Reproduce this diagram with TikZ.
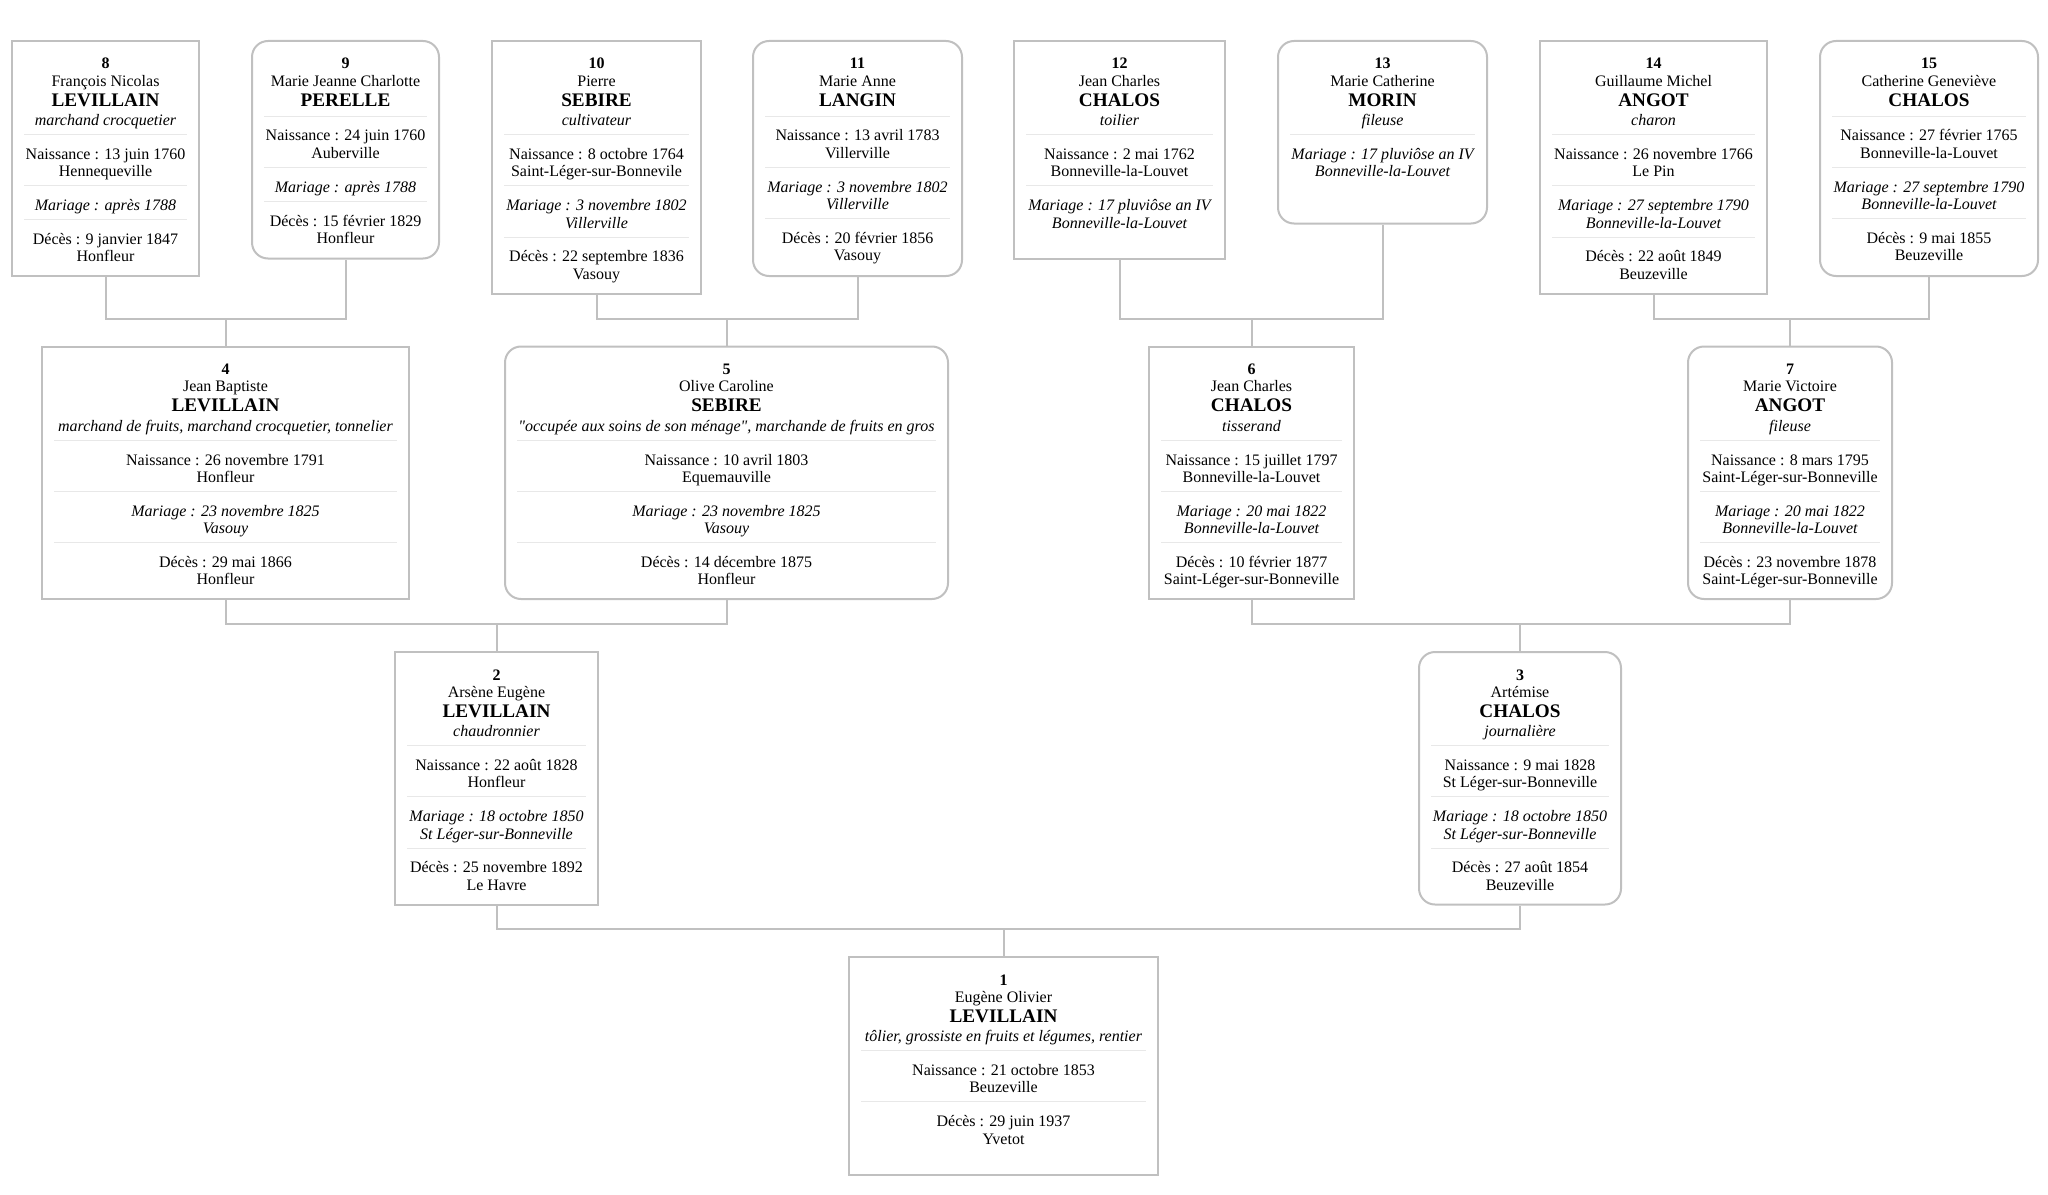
\documentclass[tikz,border=0pt]{standalone}
\usepackage{fontspec}
\setmainfont{Liberation Serif}[Ligatures=TeXOff]

\definecolor{cadre}{RGB}{192,192,192}
\definecolor{trait}{RGB}{232,232,232}

\newdimen\pxu \pxu=0.75pt
% one card: width (px), height (px), lines
\newcommand{\fiche}[3]{\parbox[c][#2\pxu][t]{\dimexpr#1\pxu-24\pxu\relax}{\centering\fontsize{12}{13}\selectfont\rule{0pt}{21pt}#3}}
\newcommand{\nom}[1]{\\[1.8pt]{\fontsize{14.4}{13}\selectfont\bfseries #1}}
\newcommand{\metier}[1]{\\[1.7pt]\textit{#1}}
\newcommand{\sep}[1][-5.8pt]{\\[#1]\leavevmode{\color{trait}\rule{\linewidth}{0.75pt}}\\[5.2pt]}

\tikzset{every picture/.style={line width=0.75pt},
  homme/.style={draw=cadre, line width=1.5pt, fill=white, inner xsep=9pt, inner ysep=0pt, anchor=north},
  femme/.style={homme, rounded corners=12pt},
  lien/.style={draw=cadre, line width=1.5pt}}

\begin{document}
\begin{tikzpicture}[x=0.75pt,y=0.75pt,yscale=-1,xscale=1]
\useasboundingbox (0,0) rectangle (2048,1195);

% Generation 4
\node [homme] (p8) at (105.5,40) {\fiche{187}{235}{\textbf{8}\\ François Nicolas\nom{LEVILLAIN}\metier{marchand crocquetier}\sep
  Naissance : 13 juin 1760\\ Hennequeville\sep \textit{Mariage : après 1788}\sep Décès : 9 janvier 1847\\ Honfleur}};
\node [femme] (p9) at (345.5,40) {\fiche{187}{217.5}{\textbf{9}\\ Marie Jeanne Charlotte\nom{PERELLE}\sep[-5pt]
  Naissance : 24 juin 1760\\ Auberville\sep \textit{Mariage : après 1788}\sep Décès : 15 février 1829\\ Honfleur}};
\node [homme] (p10) at (596.5,40) {\fiche{209}{252.5}{\textbf{10}\\ Pierre\nom{SEBIRE}\metier{cultivateur}\sep
  Naissance : 8 octobre 1764\\ Saint-Léger-sur-Bonnevile\sep {\itshape Mariage : 3 novembre 1802\\ Villerville}\sep Décès : 22 septembre 1836\\ Vasouy}};
\node [femme] (p11) at (857.5,40) {\fiche{209}{235}{\textbf{11}\\ Marie Anne\nom{LANGIN}\sep[-5pt]
  Naissance : 13 avril 1783\\ Villerville\sep {\itshape Mariage : 3 novembre 1802\\ Villerville}\sep Décès : 20 février 1856\\ Vasouy}};
\node [homme] (p12) at (1119.5,40) {\fiche{211}{217.5}{\textbf{12}\\ Jean Charles\nom{CHALOS}\metier{toilier}\sep
  Naissance : 2 mai 1762\\ Bonneville-la-Louvet\sep {\itshape Mariage : 17 pluviôse an IV\\ Bonneville-la-Louvet}}};
\node [femme] (p13) at (1382.5,40) {\fiche{209}{182.5}{\textbf{13}\\ Marie Catherine\nom{MORIN}\metier{fileuse}\sep
  {\itshape Mariage : 17 pluviôse an IV\\ Bonneville-la-Louvet}}};
\node [homme] (p14) at (1653.5,40) {\fiche{227}{252.5}{\textbf{14}\\ Guillaume Michel\nom{ANGOT}\metier{charon}\sep
  Naissance : 26 novembre 1766\\ Le Pin\sep {\itshape Mariage : 27 septembre 1790\\ Bonneville-la-Louvet}\sep Décès : 22 août 1849\\ Beuzeville}};
\node [femme] (p15) at (1929,40) {\fiche{218}{235}{\textbf{15}\\ Catherine Geneviève\nom{CHALOS}\sep[-5pt]
  Naissance : 27 février 1765\\ Bonneville-la-Louvet\sep {\itshape Mariage : 27 septembre 1790\\ Bonneville-la-Louvet}\sep Décès : 9 mai 1855\\ Beuzeville}};

% Generation 3
\node [homme] (p4) at (225.5,345.5) {\fiche{367}{252.5}{\textbf{4}\\ Jean Baptiste\nom{LEVILLAIN}\metier{marchand de fruits, marchand crocquetier, tonnelier}\sep
  Naissance : 26 novembre 1791\\ Honfleur\sep {\itshape Mariage : 23 novembre 1825\\ Vasouy}\sep Décès : 29 mai 1866\\ Honfleur}};
\node [femme] (p5) at (726.5,345.5) {\fiche{443}{252.5}{\textbf{5}\\ Olive Caroline\nom{SEBIRE}\metier{"occupée aux soins de son ménage", marchande de fruits en gros}\sep
  Naissance : 10 avril 1803\\ Equemauville\sep {\itshape Mariage : 23 novembre 1825\\ Vasouy}\sep Décès : 14 décembre 1875\\ Honfleur}};
\node [homme] (p6) at (1251.5,345.5) {\fiche{205}{252.5}{\textbf{6}\\ Jean Charles\nom{CHALOS}\metier{tisserand}\sep
  Naissance : 15 juillet 1797\\ Bonneville-la-Louvet\sep {\itshape Mariage : 20 mai 1822\\ Bonneville-la-Louvet}\sep Décès : 10 février 1877\\ Saint-Léger-sur-Bonneville}};
\node [femme] (p7) at (1790,345.5) {\fiche{204}{252.5}{\textbf{7}\\ Marie Victoire\nom{ANGOT}\metier{fileuse}\sep
  Naissance : 8 mars 1795\\ Saint-Léger-sur-Bonneville\sep {\itshape Mariage : 20 mai 1822\\ Bonneville-la-Louvet}\sep Décès : 23 novembre 1878\\ Saint-Léger-sur-Bonneville}};

% Generation 2
\node [homme] (p2) at (496.5,651) {\fiche{203}{252.5}{\textbf{2}\\ Arsène Eugène\nom{LEVILLAIN}\metier{chaudronnier}\sep
  Naissance : 22 août 1828\\ Honfleur\sep {\itshape Mariage : 18 octobre 1850\\ St Léger-sur-Bonneville}\sep Décès : 25 novembre 1892\\ Le Havre}};
\node [femme] (p3) at (1520,651) {\fiche{202}{252.5}{\textbf{3}\\ Artémise\nom{CHALOS}\metier{journalière}\sep
  Naissance : 9 mai 1828\\ St Léger-sur-Bonneville\sep {\itshape Mariage : 18 octobre 1850\\ St Léger-sur-Bonneville}\sep Décès : 27 août 1854\\ Beuzeville}};

% Generation 1
\node [homme] (p1) at (1003.5,956) {\fiche{309}{218}{\textbf{1}\\ Eugène Olivier\nom{LEVILLAIN}\metier{tôlier, grossiste en fruits et légumes, rentier}\sep
  Naissance : 21 octobre 1853\\ Beuzeville\sep Décès : 29 juin 1937\\ Yvetot}};

% Junctions
\coordinate (j4) at (225.5,318.5);
\coordinate (j5) at (726.5,318.5);
\coordinate (j6) at (1251.5,318.5);
\coordinate (j7) at (1790,318.5);
\coordinate (j2) at (496.5,624);
\coordinate (j3) at (1520,624);
\coordinate (j1) at (1003.5,929);

%Straight Lines
\draw [lien] (p8.south) |- (j4) -| (p9.south);
\draw [lien] (j4) -- (p4.north);
\draw [lien] (p10.south) |- (j5) -| (p11.south);
\draw [lien] (j5) -- (p5.north);
\draw [lien] (p12.south) |- (j6) -| (p13.south);
\draw [lien] (j6) -- (p6.north);
\draw [lien] (p14.south) |- (j7) -| (p15.south);
\draw [lien] (j7) -- (p7.north);
\draw [lien] (p4.south) |- (j2) -| (p5.south);
\draw [lien] (j2) -- (p2.north);
\draw [lien] (p6.south) |- (j3) -| (p7.south);
\draw [lien] (j3) -- (p3.north);
\draw [lien] (p2.south) |- (j1) -| (p3.south);
\draw [lien] (j1) -- (p1.north);

\end{tikzpicture}
\end{document}
